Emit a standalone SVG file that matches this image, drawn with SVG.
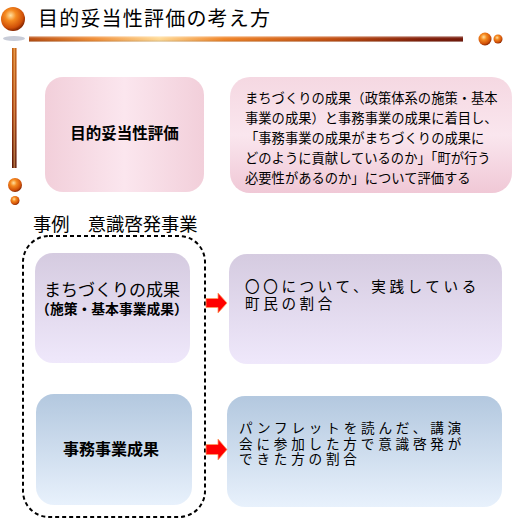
<svg xmlns="http://www.w3.org/2000/svg" width="527" height="520" viewBox="0 0 527 520">
<defs>
<radialGradient id="sph" cx="0.4" cy="0.35" r="0.65">
<stop offset="0" stop-color="#ffe0a0"/>
<stop offset="0.35" stop-color="#f58a20"/>
<stop offset="0.8" stop-color="#d05008"/>
<stop offset="1" stop-color="#8a2800"/>
</radialGradient>
<linearGradient id="hbar" x1="0" y1="0" x2="1" y2="0">
<stop offset="0" stop-color="#b84808"/>
<stop offset="0.15" stop-color="#f08a30"/>
<stop offset="0.3" stop-color="#ffd890"/>
<stop offset="0.45" stop-color="#f08020"/>
<stop offset="0.7" stop-color="#c04808"/>
<stop offset="0.9" stop-color="#801800"/>
<stop offset="1" stop-color="#701000"/>
</linearGradient>
<linearGradient id="hbarv" x1="0" y1="0" x2="0" y2="1">
<stop offset="0" stop-color="#fff" stop-opacity="0.35"/>
<stop offset="0.5" stop-color="#fff" stop-opacity="0"/>
<stop offset="1" stop-color="#000" stop-opacity="0.2"/>
</linearGradient>
<linearGradient id="vbar" x1="0" y1="0" x2="0" y2="1">
<stop offset="0" stop-color="#f07010"/>
<stop offset="0.5" stop-color="#c84008"/>
<stop offset="1" stop-color="#6a1000"/>
</linearGradient>
<linearGradient id="vbarh" x1="0" y1="0" x2="1" y2="0">
<stop offset="0" stop-color="#000" stop-opacity="0.15"/>
<stop offset="0.5" stop-color="#ffd080" stop-opacity="0.6"/>
<stop offset="1" stop-color="#000" stop-opacity="0.15"/>
</linearGradient>
<linearGradient id="pinkH" x1="0" y1="0" x2="1" y2="0">
<stop offset="0" stop-color="#f2cfda"/>
<stop offset="0.5" stop-color="#fbe6ee"/>
<stop offset="1" stop-color="#f2cfda"/>
</linearGradient>
<linearGradient id="pinkV" x1="0" y1="0" x2="0" y2="1">
<stop offset="0" stop-color="#f5d8e2"/>
<stop offset="0.5" stop-color="#fae6ee"/>
<stop offset="1" stop-color="#f0c8d6"/>
</linearGradient>
<linearGradient id="purple" x1="0" y1="0" x2="0" y2="1">
<stop offset="0" stop-color="#d5cbe0"/>
<stop offset="1" stop-color="#efe8fb"/>
</linearGradient>
<linearGradient id="blue" x1="0" y1="0" x2="0" y2="1">
<stop offset="0" stop-color="#b3c8df"/>
<stop offset="1" stop-color="#e8f1fc"/>
</linearGradient>
<style>
text{font-family:"Noto Sans CJK JP","Noto Sans",sans-serif;fill:#000}
.arrow{fill:#ff0000;stroke:#ff9a60;stroke-width:0.8}
</style>
</defs>

<g id="decor">
<circle cx="13" cy="19" r="12" fill="url(#sph)"/>
<ellipse cx="14" cy="38.5" rx="11" ry="2.5" fill="#c8ccd8"/>
<rect x="29" y="36.5" width="434" height="5" fill="url(#hbar)"/>
<rect x="29" y="36.5" width="434" height="5" fill="url(#hbarv)"/>
<circle cx="485" cy="39" r="6.5" fill="url(#sph)"/>
<circle cx="498" cy="39" r="4.5" fill="url(#sph)"/>
<rect x="12" y="48" width="4.5" height="120" fill="url(#vbar)"/>
<rect x="12" y="48" width="4.5" height="120" fill="url(#vbarh)"/>
<circle cx="15" cy="185" r="7" fill="url(#sph)"/>
<circle cx="15" cy="200.5" r="4.5" fill="url(#sph)"/>
</g>

<g id="title">
<text x="38" y="26" font-size="20" letter-spacing="1.2">目的妥当性評価の考え方</text>
</g>

<g id="box-eval">
<rect x="45" y="77" width="159" height="115" rx="18" fill="url(#pinkH)"/>
<text x="124.5" y="139" font-size="15.5" font-weight="bold" text-anchor="middle">目的妥当性評価</text>
</g>

<g id="box-desc">
<rect x="230" y="77" width="282" height="116" rx="20" fill="url(#pinkV)"/>
<text font-size="13.3" fill="#333">
<tspan x="245" y="103">まちづくりの成果（政策体系の施策・基本</tspan>
<tspan x="245" y="123">事業の成果）と事務事業の成果に着目し、</tspan>
<tspan x="245" y="143">「事務事業の成果がまちづくりの成果に</tspan>
<tspan x="245" y="163">どのように貢献しているのか」「町が行う</tspan>
<tspan x="245" y="183">必要性があるのか」について評価する</tspan>
</text>
</g>

<g id="example-label">
<text x="33" y="231" font-size="18.3">事例　意識啓発事業</text>
</g>

<g id="example-group">
<rect x="23" y="236" width="182" height="281" rx="26" fill="none" stroke="#000" stroke-width="2" stroke-dasharray="4 3"/>
</g>

<g id="box-machi">
<rect x="35" y="253" width="155" height="110" rx="18" fill="url(#purple)"/>
<text x="112" y="296" font-size="17" text-anchor="middle">まちづくりの成果</text>
<text x="112" y="313.5" font-size="13.8" font-weight="bold" text-anchor="middle">（施策・基本事業成果）</text>
</g>

<g id="box-machi-result">
<rect x="229" y="254" width="273" height="110" rx="18" fill="url(#purple)"/>
<text font-size="14.6" letter-spacing="3.6">
<tspan x="245" y="292">〇〇について、実践している</tspan>
<tspan x="245" y="309">町民の割合</tspan>
</text>
</g>

<g id="box-jimu">
<rect x="36" y="394" width="156" height="111" rx="18" fill="url(#blue)"/>
<text x="111" y="455" font-size="16" font-weight="bold" text-anchor="middle">事務事業成果</text>
</g>

<g id="box-jimu-result">
<rect x="227" y="396" width="275" height="111" rx="18" fill="url(#blue)"/>
<text font-size="13.6" letter-spacing="3.8">
<tspan x="239" y="433">パンフレットを読んだ、講演</tspan>
<tspan x="239" y="448.5">会に参加した方で意識啓発が</tspan>
<tspan x="239" y="464">できた方の割合</tspan>
</text>
</g>

<g id="connectors">
<path class="arrow" d="M206,298.5 H218 V293 L227,303 L218,313 V307.5 H206 Z"/>
<path class="arrow" d="M206,444.5 H218 V439 L227,449.5 L218,460 V454.5 H206 Z"/>
</g>
</svg>
